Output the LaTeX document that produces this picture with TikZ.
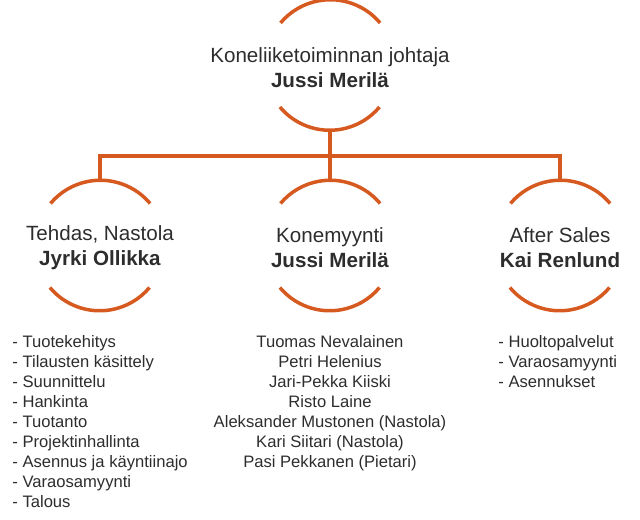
\documentclass[tikz,border=0pt]{standalone}
\usepackage{fontspec}
\setmainfont{Liberation Sans}
\usepackage{xcolor}
\usepackage{tikz}
\definecolor{orangeline}{RGB}{214,90,32}
\definecolor{textgray}{RGB}{45,45,45}
\tikzset{
  ring/.style={circle,minimum size=65pt,inner sep=0pt},
  link/.style={draw=orangeline,line width=1.75pt},
  title/.style={align=center,text=textgray,yshift=-1.25pt,font=\fontsize{10.3}{12.5}\selectfont},
  tasks/.style={inner sep=0pt,text=textgray,font=\fontsize{8.3}{10}\selectfont}
}
\begin{document}
\begin{tikzpicture}[x=0.5pt,y=-0.5pt]
\useasboundingbox (0,0) rectangle (640,519);
\node (top) at (330,65) [ring] {};
\node (left) at (100,245.5) [ring] {};
\node (mid) at (330,245.5) [ring] {};
\node (right) at (560,245.5) [ring] {};
\coordinate (hub) at (330,156);
% arcs round each title
\foreach \c in {top,left,mid,right} {
  \draw[link] (\c.40) arc[start angle=40,end angle=140,radius=32.5pt];
  \draw[link] (\c.220) arc[start angle=220,end angle=320,radius=32.5pt];
}
\draw[link] (top.south) -- (mid.north);
\draw[link] (left.north) |- (hub) -| (right.north);
\node at (top) [title] {Koneliiketoiminnan johtaja\\\textbf{Jussi Merilä}};
\node at (left) [title] {Tehdas, Nastola\\\textbf{Jyrki Ollikka}};
\node at (mid) [title] {Konemyynti\\\textbf{Jussi Merilä}};
\node at (right) [title] {After Sales\\\textbf{Kai Renlund}};
\node (lefttasks) at (12,335.5) [tasks,anchor=north west,align=left] {- Tuotekehitys\\- Tilausten käsittely\\- Suunnittelu\\- Hankinta\\- Tuotanto\\- Projektinhallinta\\- Asennus ja käyntiinajo\\- Varaosamyynti\\- Talous};
\node (midtasks) at (330,335.5) [tasks,anchor=north,align=center] {Tuomas Nevalainen\\Petri Helenius\\Jari-Pekka Kiiski\\Risto Laine\\Aleksander Mustonen (Nastola)\\Kari Siitari (Nastola)\\Pasi Pekkanen (Pietari)};
\node (righttasks) at (498,335.5) [tasks,anchor=north west,align=left] {- Huoltopalvelut\\- Varaosamyynti\\- Asennukset};
\end{tikzpicture}
\end{document}
